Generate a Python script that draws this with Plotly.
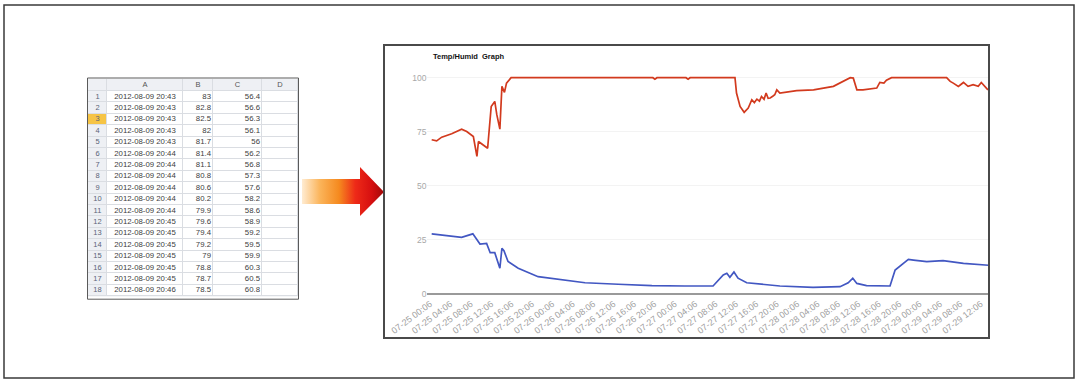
import plotly.graph_objects as go

W, H = 1077, 381

# ---------------- spreadsheet data ----------------
row_numbers = [str(i) for i in range(1, 19)]
col_a = (["2012-08-09 20:43"] * 5 + ["2012-08-09 20:44"] * 6 +
         ["2012-08-09 20:45"] * 6 + ["2012-08-09 20:46"])
col_b = [83, 82.8, 82.5, 82, 81.7, 81.4, 81.1, 80.8, 80.6, 80.2, 79.9,
         79.6, 79.4, 79.2, 79, 78.8, 78.7, 78.5]
col_c = [56.4, 56.6, 56.3, 56.1, 56, 56.2, 56.8, 57.3, 57.6, 58.2, 58.6,
         58.9, 59.2, 59.5, 59.9, 60.3, 60.5, 60.8]
header_labels = ["", "A", "B", "C", "D"]
selected_row = 3

# ---------------- chart data (hours since 07-25 00:06) ----------------
humid_hours = [0.33, 1.3, 2.3, 4.25, 6.2, 7.2, 8.5, 9.2, 9.5, 10.5, 11.3, 12.0,
               12.7, 13.1, 13.7, 14.1, 14.6, 15.0, 15.9, 43.7, 44.1, 44.5,
               50.2, 50.6, 51.0, 59.8, 60.1, 60.8, 61.6, 62.4, 63.1, 63.6,
               64.1, 64.6, 65.0, 65.5, 65.9, 66.3, 66.7, 67.2, 67.6, 68.0,
               68.6, 71.9, 75.2, 79.1, 81.0, 82.4, 83.0, 83.7, 84.9, 87.6,
               88.2, 89.0, 89.5, 90.5, 101.3, 102.0, 102.6, 103.6, 104.6,
               105.5, 106.5, 107.5, 108.1, 109.4]
humid_vals = [71.3, 70.8, 72.5, 74.1, 76.2, 75.1, 72.8, 63.6, 70.5, 69, 67.4,
              86.7, 89, 82.9, 76.2, 96, 93.2, 97.5, 100, 100, 99.3, 100,
              100, 99.3, 100, 100, 92.9, 86.7, 84, 86, 89.8, 88.5,
              90.1, 89.2, 91.3, 90.0, 92.9, 90.5, 90.6, 91.4, 92.1, 94.4,
              92.9, 94, 94.4, 96, 98.3, 100, 99.8, 94.4, 94.4, 95.2,
              97.8, 97.5, 98.8, 100, 100, 98.3, 97.5, 96, 97.8,
              96, 96.8, 96, 97.8, 94.4]

temp_hours = [0.33, 4.2, 6.2, 8.4, 9.2, 9.8, 11.1, 11.8, 12.7, 13.7, 14.1,
              14.5, 15.3, 17.3, 21.2, 25.9, 30.4, 36.9, 43.5, 50.0, 55.5,
              57.5, 58.2, 58.8, 59.6, 60.4, 62.1, 68.6, 75.1, 80.4, 82.0,
              82.9, 83.7, 85.6, 90.2, 91.2, 92.2, 93.8, 94.8, 97.4, 100.6,
              104.6, 109.5]
temp_vals = [27.8, 26.9, 26.2, 27.8, 25, 23.1, 23.4, 19.1, 19.1, 11.9, 21.1,
             20, 15, 11.9, 8, 6.5, 5.2, 4.5, 3.9, 3.7, 3.7,
             8.8, 9.6, 7.7, 10.2, 7.3, 5.2, 3.7, 3.1, 3.4, 5.2,
             7.3, 4.9, 3.9, 3.7, 11.1, 13, 16, 15.7, 15, 15.4,
             14.2, 13.3]

tick_hours = list(range(0, 113, 4))
tick_labels = []
for d in ["25", "26", "27", "28", "29"]:
    for hh in ["00", "04", "08", "12", "16", "20"]:
        tick_labels.append(f"07-{d} {hh}:06")
tick_labels = tick_labels[:len(tick_hours)]

# ---------------- layout helpers (pixels) ----------------
def px(x):
    return x / W


def py(y):
    return 1 - y / H


# table geometry (pixel sizes)
col_widths = [19, 76, 30, 49, 36]
header_h, row_h = 12, 11.4
col_edges = [0]
for w_ in col_widths:
    col_edges.append(col_edges[-1] + w_)
row_edges = [0, header_h]
for _ in row_numbers:
    row_edges.append(row_edges[-1] + row_h)
tab_left, tab_top = 88, 79
tab_w, tab_h = col_edges[-1], row_edges[-1]

fig = go.Figure()

# ---- spreadsheet: cell fills via heatmap (0 white, 1 gray, 2 yellow)
z = [[1, 1, 1, 1, 1]]
for i, _ in enumerate(row_numbers):
    z.append([2 if i + 1 == selected_row else 1, 0, 0, 0, 0])
fig.add_trace(go.Heatmap(
    x=col_edges, y=row_edges, z=z, zmin=0, zmax=2, showscale=False,
    colorscale=[[0, "#FFFFFF"], [0.33, "#FFFFFF"], [0.34, "#EEF0F4"],
                [0.66, "#EEF0F4"], [0.67, "#F6C445"], [1, "#F6C445"]],
    xgap=1, ygap=1, xaxis="x3", yaxis="y3", hoverinfo="skip"))

row_centers = [(row_edges[i + 1] + row_edges[i + 2]) / 2
               for i in range(len(row_numbers))]
hdr_c = header_h / 2
tfont = dict(size=7.8, color="#404040", family="Liberation Sans")
fig.add_trace(go.Scatter(
    x=[(col_edges[i] + col_edges[i + 1]) / 2 for i in range(5)],
    y=[hdr_c] * 5, text=header_labels, mode="text",
    textfont=dict(size=7.5, color="#555", family="Liberation Sans"),
    xaxis="x3", yaxis="y3", hoverinfo="skip"))
fig.add_trace(go.Scatter(
    x=[(col_edges[0] + col_edges[1]) / 2] * len(row_numbers), y=row_centers,
    text=row_numbers, mode="text",
    textfont=dict(size=7.5, color="#5A6478", family="Liberation Sans"),
    xaxis="x3", yaxis="y3", hoverinfo="skip"))
fig.add_trace(go.Scatter(
    x=[(col_edges[1] + col_edges[2]) / 2] * len(col_a), y=row_centers,
    text=col_a, mode="text", textfont=tfont,
    xaxis="x3", yaxis="y3", hoverinfo="skip"))
fig.add_trace(go.Scatter(
    x=[col_edges[3] - 2] * len(col_b), y=row_centers,
    text=[f"{v:g}" for v in col_b], mode="text", textposition="middle left",
    textfont=tfont, xaxis="x3", yaxis="y3", hoverinfo="skip"))
fig.add_trace(go.Scatter(
    x=[col_edges[4] - 2] * len(col_c), y=row_centers,
    text=[f"{v:g}" for v in col_c], mode="text", textposition="middle left",
    textfont=tfont, xaxis="x3", yaxis="y3", hoverinfo="skip"))

# ---- chart lines
fig.add_trace(go.Scatter(x=humid_hours, y=humid_vals, mode="lines",
                         line=dict(color="#D23A1E", width=1.7),
                         xaxis="x", yaxis="y"))
fig.add_trace(go.Scatter(x=temp_hours, y=temp_vals, mode="lines",
                         line=dict(color="#4257C2", width=1.7),
                         xaxis="x", yaxis="y"))

# ---- arrow with gradient (decoration, pixel coords on overlay axes)
arrow_x = [302, 360, 360, 384, 360, 360, 302, 302]
arrow_y = [179, 179, 167, 192, 216, 204, 204, 179]
fig.add_trace(go.Scatter(x=arrow_x, y=arrow_y, mode="lines", fill="toself",
                         line=dict(width=0, color="rgba(0,0,0,0)"),
                         fillgradient=dict(type="horizontal", colorscale=[
                             [0, "rgba(255,236,210,1)"], [0.22, "#FBB45A"],
                             [0.45, "#F58A1F"], [0.65, "#EE2A18"],
                             [0.85, "#D60F10"], [1, "#A00808"]]),
                         xaxis="x2", yaxis="y2", hoverinfo="skip"))

x0h, x1h = -0.5, 109.6
pxh = 5.1
y_lo, y_hi = -1, 105
ppu = (294 - 77.7) / 100

fig.update_layout(
    template="none",
    width=W, height=H, margin=dict(l=0, r=0, t=0, b=0, pad=0),
    paper_bgcolor="white", plot_bgcolor="rgba(0,0,0,0)", showlegend=False,
    xaxis=dict(domain=[px(430 + x0h * pxh), px(430 + x1h * pxh)],
               range=[x0h, x1h], tickvals=tick_hours, ticktext=tick_labels,
               tickangle=-37, showgrid=False, zeroline=False,
               showline=False, ticks="", automargin=False,
               tickfont=dict(size=9, color="#A0A0A0",
                             family="Liberation Sans"),
               anchor="y"),
    yaxis=dict(domain=[py(294 - y_lo * ppu), py(294 - y_hi * ppu)],
               range=[y_lo, y_hi], tickvals=[0, 25, 50, 75, 100],
               showgrid=True, gridcolor="#F3F3F3", gridwidth=1,
               zeroline=True, zerolinecolor="#9A9A9A", zerolinewidth=1.5,
               ticks="", showline=False, automargin=False,
               tickfont=dict(size=8.5, color="#A8A8A8",
                             family="Liberation Sans"),
               anchor="x"),
    xaxis2=dict(domain=[0, 1], range=[0, W], visible=False, anchor="y2",
                automargin=False),
    yaxis2=dict(domain=[0, 1], range=[H, 0], visible=False, anchor="x2",
                automargin=False),
    xaxis3=dict(domain=[px(tab_left), px(tab_left + tab_w)],
                range=[0, tab_w], visible=False, anchor="y3",
                automargin=False),
    yaxis3=dict(domain=[py(tab_top + tab_h), py(tab_top)],
                range=[tab_h, 0], visible=False, anchor="x3",
                automargin=False),
    shapes=[
        dict(type="rect", xref="paper", yref="paper", layer="below",
             x0=px(tab_left), x1=px(tab_left + tab_w),
             y0=py(tab_top + tab_h), y1=py(tab_top),
             fillcolor="#DADDE2", line=dict(width=0)),
        dict(type="rect", xref="paper", yref="paper", x0=px(4), x1=px(1074),
             y0=py(5), y1=py(378), line=dict(color="#3A3A3A", width=1.5)),
        dict(type="rect", xref="paper", yref="paper", x0=px(384), x1=px(989),
             y0=py(45), y1=py(338), line=dict(color="#4A4A4A", width=2)),
        dict(type="rect", xref="paper", yref="paper", x0=px(87.5),
             x1=px(tab_left + tab_w + 0.5),
             y0=py(tab_top + tab_h + 3), y1=py(78),
             line=dict(color="#5A5A5A", width=1)),
    ],
    annotations=[
        dict(text="<b>Temp/Humid  Graph</b>", xref="paper", yref="paper",
             x=px(431), y=py(57), xanchor="left", yanchor="middle",
             showarrow=False,
             font=dict(size=7.5, color="#111", family="Liberation Sans")),
    ],
)

fig.write_html("out.html",
               config={"displayModeBar": False, "staticPlot": True},
               post_script="document.body.style.margin='0';"
                           "document.body.style.padding='0';")
